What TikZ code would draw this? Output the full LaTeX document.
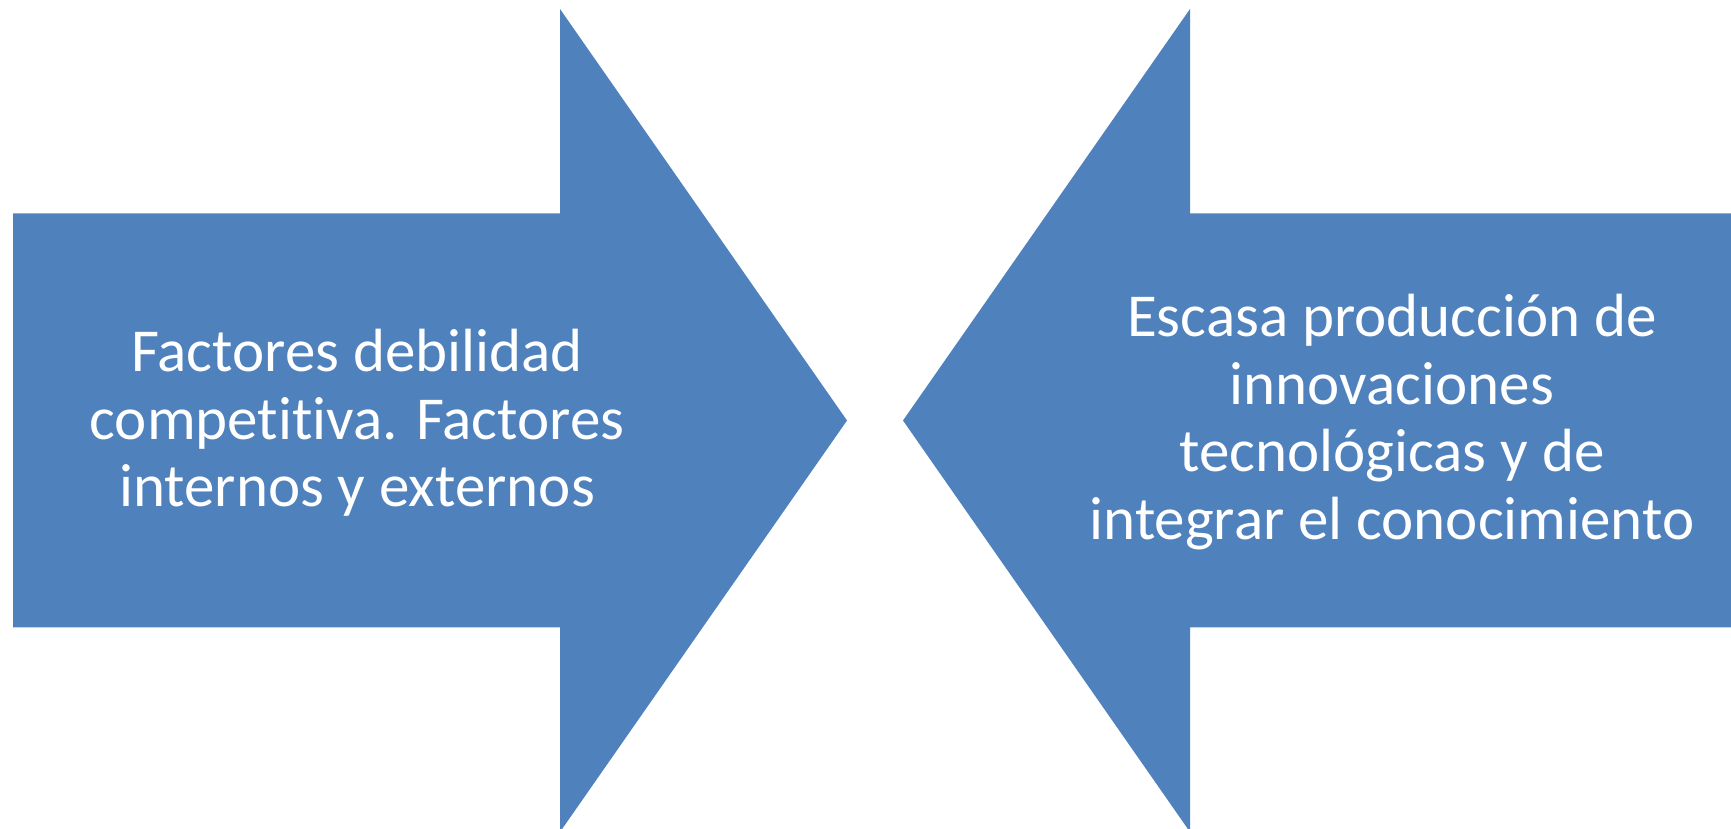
\documentclass[tikz,border=0pt]{standalone}
\usepackage{fontspec}
\setmainfont{Carlito}[Ligatures={NoCommon}]
\definecolor{arrowblue}{HTML}{4F81BD}
\begin{document}
\begin{tikzpicture}[x=1bp,y=1bp,
  arrowfill/.style={fill=arrowblue},
  arrowtext/.style={text=white,align=center,inner sep=0pt,font=\fontsize{61bp}{67.5bp}\selectfont}]
\useasboundingbox (0,0) rectangle (1731,829);
\fill[arrowfill] (13,615.5) -- (560,615.5) -- (560,820) -- (847,408.5) -- (560,-3) -- (560,201.5) -- (13,201.5) -- cycle;
\fill[arrowfill] (1731,615.5) -- (1190,615.5) -- (1190,820) -- (903,408.5) -- (1190,-3) -- (1190,201.5) -- (1731,201.5) -- cycle;
\node[arrowtext] (lt) at (357,406) {Factores debilidad\\competitiva. Factores\\internos y externos};
\node[arrowtext] (rt) at (1392,407) {Escasa producción de\\innovaciones\\tecnológicas y de\\integrar el conocimiento};
\end{tikzpicture}
\end{document}
